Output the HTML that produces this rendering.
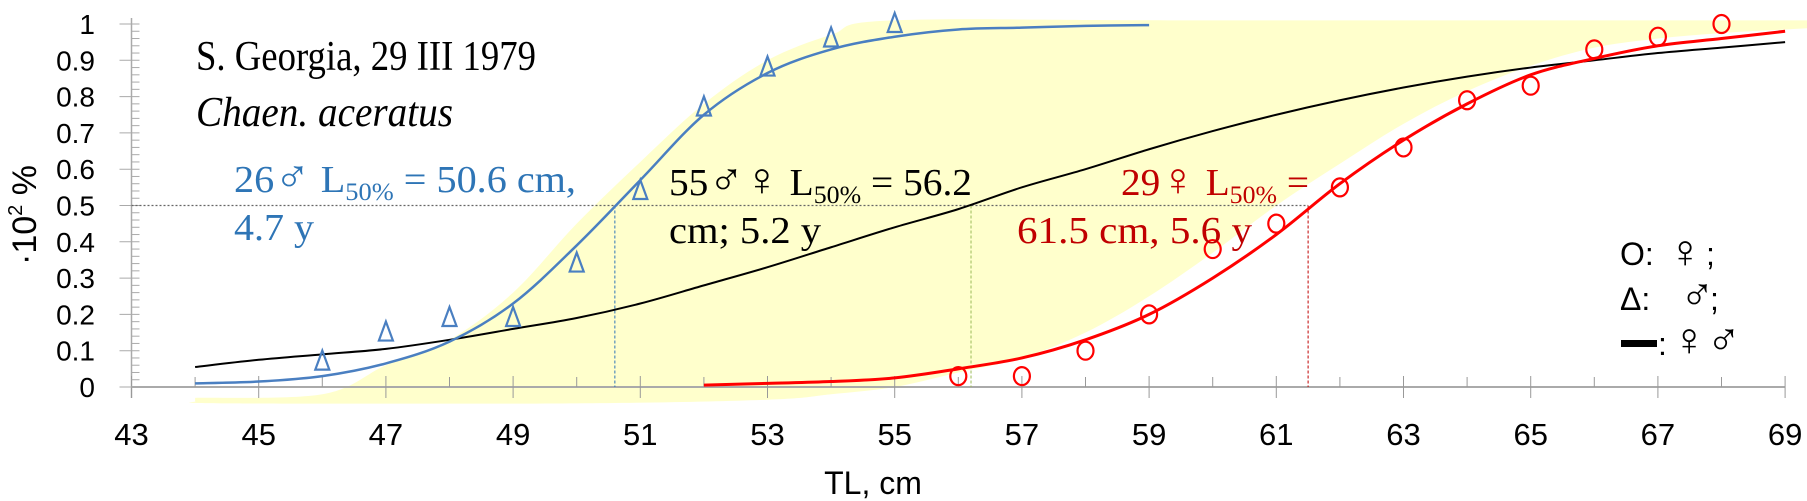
<!DOCTYPE html>
<html><head><meta charset="utf-8"><style>
html,body{margin:0;padding:0;background:#fff;}
svg{display:block;}
text{font-family:"Liberation Serif","DejaVu Serif",serif;}
.sans{font-family:"Liberation Sans","DejaVu Sans",sans-serif;}
</style></head><body>
<svg id="chart" width="1807" height="501" viewBox="0 0 1807 501" xmlns="http://www.w3.org/2000/svg">
<g id="band"></g>
<g id="axes"></g>
<g id="refs"></g>
<g id="series"></g>
<text x="196" y="70" font-size="42" textLength="340" lengthAdjust="spacingAndGlyphs">S. Georgia, 29 III 1979</text>
<text x="196" y="126" font-size="42" font-style="italic" textLength="257" lengthAdjust="spacingAndGlyphs">Chaen. aceratus</text>
<text x="234" y="192" font-size="38" fill="#2e75b6" textLength="342" lengthAdjust="spacingAndGlyphs">26<tspan font-size="46">♂</tspan> L<tspan font-size="25" dy="8">50%</tspan><tspan dy="-8"> = 50.6 cm,</tspan></text>
<text x="234" y="240" font-size="38" fill="#2e75b6" textLength="80" lengthAdjust="spacingAndGlyphs">4.7 y</text>
<text x="669" y="195" font-size="38" fill="#000" textLength="303" lengthAdjust="spacingAndGlyphs">55<tspan font-size="46">♂♀</tspan> L<tspan font-size="25" dy="8">50%</tspan><tspan dy="-8"> = 56.2</tspan></text>
<text x="669" y="243" font-size="38" fill="#000" textLength="152" lengthAdjust="spacingAndGlyphs">cm; 5.2 y</text>
<text x="1121" y="195" font-size="38" fill="#c00000" textLength="188" lengthAdjust="spacingAndGlyphs">29<tspan font-size="46">♀</tspan> L<tspan font-size="25" dy="8">50%</tspan><tspan dy="-8"> =</tspan></text>
<text x="1017" y="243" font-size="38" fill="#c00000" textLength="235" lengthAdjust="spacingAndGlyphs">61.5 cm, 5.6 y</text>
<g class="sans">
<text x="1620" y="265" class="sans" font-size="32">O: <tspan x="1668" font-size="46" dy="2">♀</tspan><tspan x="1706" dy="-2">;</tspan></text>
<text x="1620" y="310" class="sans" font-size="32">Δ: <tspan x="1680" font-size="46">♂</tspan><tspan x="1710">;</tspan></text>
<rect x="1621" y="340" width="36" height="7" fill="#000"></rect>
<text x="1658" y="355" class="sans" font-size="32">:<tspan x="1672" font-size="46">♀♂</tspan></text>
</g>
<text x="873" y="494" font-size="32" text-anchor="middle" class="sans">TL, cm</text>
<text transform="translate(36,215) rotate(-90)" font-size="34" text-anchor="middle" class="sans">·10<tspan font-size="20" dy="-14">2</tspan><tspan dy="14"> %</tspan></text>
</svg>
<script>
const xTicks=[43,45,47,49,51,53,55,57,59,61,63,65,67,69];
const yTicks=[0,0.1,0.2,0.3,0.4,0.5,0.6,0.7,0.8,0.9,1];
const maleX=[46,47,48,49,50,51,52,53,54,55];
const maleY=[0.07,0.15,0.19,0.19,0.34,0.54,0.77,0.88,0.96,1.0];
const femaleX=[56,57,58,59,60,61,62,63,64,65,66,67,68];
const femaleY=[0.03,0.03,0.10,0.20,0.38,0.45,0.55,0.66,0.79,0.83,0.93,0.965,1.0];
const maleFitX=[44,45,46,47,48,49,50,51,52,53,54,55,56,57,58,59];
const maleFitY=[0.01,0.015,0.03,0.065,0.125,0.23,0.39,0.57,0.75,0.865,0.93,0.965,0.985,0.99,0.995,0.997];
const femaleFitX=[52,53,54,55,56,57,58,59,60,61,62,63,64,65,66,67,68,69];
const femaleFitY=[0.005,0.01,0.015,0.025,0.05,0.08,0.13,0.2,0.3,0.42,0.56,0.68,0.78,0.86,0.905,0.94,0.96,0.98];
const allFitX=[44,45,46,47,48,49,50,51,52,53,54,55,56,57,58,59,60,61,62,63,64,65,66,67,68,69];
const allFitY=[0.055,0.075,0.09,0.105,0.13,0.16,0.19,0.23,0.28,0.33,0.385,0.44,0.49,0.55,0.6,0.655,0.705,0.75,0.79,0.825,0.855,0.88,0.9,0.92,0.935,0.95];
const bandUpX=[44,46,47,48,49,50,51,52,53,54,55,60,70.5];
const bandUpY=[-0.03,-0.02,0.06,0.13,0.26,0.45,0.62,0.78,0.9,0.97,1.01,1.01,1.01];
const bandLoX=[70.5,69,68,67,66,65,64,63,62,61,60,59,58,57,56,55,54,53,50,44.5,44];
const bandLoY=[1.0,0.985,0.975,0.96,0.935,0.885,0.815,0.725,0.615,0.5,0.37,0.25,0.15,0.08,0.04,0.0,-0.02,-0.035,-0.045,-0.045,-0.04];
const L50=[50.6,56.2,61.5];
const L50Colors=['#2e75b6','#9bbb59','#c00000'];

const NS='http://www.w3.org/2000/svg';
const X=v=>131.5+(v-43)*63.6;
const Y=p=>387-p*363;
function mk(tag,parent,attrs){const e=document.createElementNS(NS,tag);for(const k in attrs)e.setAttribute(k,attrs[k]);parent.appendChild(e);return e;}
function smooth(xs,ys){
  const p=xs.map((x,i)=>[X(x),Y(ys[i])]);let d='M'+p[0][0]+','+p[0][1];
  for(let i=0;i<p.length-1;i++){const p0=p[i-1]||p[i],p1=p[i],p2=p[i+1],p3=p[i+2]||p2;
    d+=' C'+(p1[0]+(p2[0]-p0[0])/6)+','+(p1[1]+(p2[1]-p0[1])/6)+' '+(p2[0]-(p3[0]-p1[0])/6)+','+(p2[1]-(p3[1]-p1[1])/6)+' '+p2[0]+','+p2[1];}
  return d;}

const band=document.getElementById('band');
const bp=mk('path',band,{d:smooth(bandUpX,bandUpY)+' L'+smooth(bandLoX,bandLoY).slice(1)+' Z',fill:'#ffffcc'});



const axes=document.getElementById('axes');
const xa=mk('line',axes,{x1:X(43),x2:X(69),y1:387,y2:387,stroke:'#aaa','stroke-width':2});


const ya=mk('line',axes,{x1:X(43),x2:X(43),y1:18,y2:398,stroke:'#aaa','stroke-width':1.5});


for(let v=43;v<=69;v++){
  const major=(v%2===1);
  const t=mk('line',axes,{x1:X(v),x2:X(v),y1:major?376:377,y2:major?398:387,stroke:'#999','stroke-width':1});
  
  
}
xTicks.forEach(v=>{const t=mk('text',axes,{x:X(v),y:445,'font-size':31,'text-anchor':'middle',class:'sans'});t.textContent=v;
  
  });
for(let i=0;i<=50;i++){const p=i/50;const major=(i%5===0);
  const t=mk('line',axes,{x1:major?X(43)-12:X(43),x2:X(43)+8,y1:Y(p),y2:Y(p),stroke:'#aaa','stroke-width':1});
  
  }
yTicks.forEach(p=>{const t=mk('text',axes,{x:95,y:Y(p)+10,'font-size':28,'text-anchor':'end',class:'sans'});t.textContent=String(p);
  
  });

const refs=document.getElementById('refs');
const hl=mk('line',refs,{x1:X(43),x2:X(L50[2]),y1:Y(0.5),y2:Y(0.5),stroke:'#666','stroke-width':1.2,'stroke-dasharray':'2,2'});


L50.forEach((v,i)=>{const l=mk('line',refs,{x1:X(v),x2:X(v),y1:Y(0.5),y2:387,stroke:L50Colors[i],'stroke-width':1,'stroke-dasharray':'3,2'});
  
  });

const ser=document.getElementById('series');
const c1=mk('path',ser,{d:smooth(allFitX,allFitY),fill:'none',stroke:'#000','stroke-width':2});


const c2=mk('path',ser,{d:smooth(maleFitX,maleFitY),fill:'none',stroke:'#4a7fc1','stroke-width':2.5});


const c3=mk('path',ser,{d:smooth(femaleFitX,femaleFitY),fill:'none',stroke:'#ff0000','stroke-width':3});


maleX.forEach((x,i)=>{const cx=X(x),cy=Y(maleY[i]);
  const m=mk('polygon',ser,{points:`${cx},${cy-11} ${cx-7},${cy+8} ${cx+7},${cy+8}`,fill:'none',stroke:'#4a7fc1','stroke-width':2.2});
  
  });
femaleX.forEach((x,i)=>{
  const m=mk('ellipse',ser,{cx:X(x),cy:Y(femaleY[i]),rx:8,ry:9,fill:'none',stroke:'#ff0000','stroke-width':2.2});
  
  });
</script>
</body></html>
